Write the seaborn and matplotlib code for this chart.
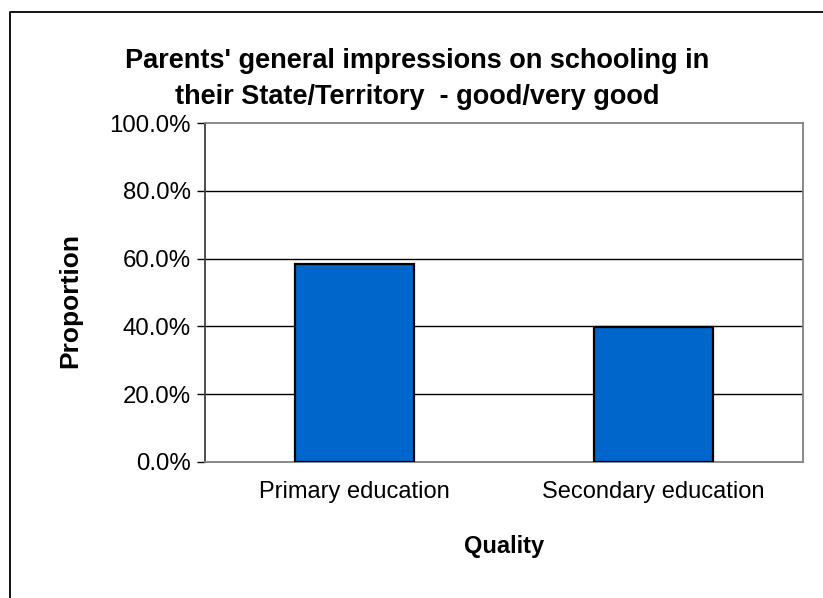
import seaborn as sns
import pandas as pd
from matplotlib import pyplot as plt
from matplotlib.ticker import PercentFormatter
from matplotlib.lines import Line2D

# values
categories = ["Primary education", "Secondary education"]
proportions = [0.583, 0.398]
y_ticks = [0.0, 0.2, 0.4, 0.6, 0.8, 1.0]

df = pd.DataFrame({"Quality": categories, "Proportion": proportions})

sns.set_style("white")
plt.rcParams["font.family"] = ["Liberation Sans", "DejaVu Sans"]
plt.rcParams["text.color"] = "black"
plt.rcParams["xtick.color"] = "black"
plt.rcParams["ytick.color"] = "black"

W, H = 823, 598
fig = plt.figure(figsize=(W / 100, H / 100), dpi=100)

# plot area in pixels: left 205, top 123, right 803, bottom 462
ax = fig.add_axes([205 / W, 1 - 462 / H, 598 / W, 339 / H])

sns.barplot(data=df, x="Quality", y="Proportion", ax=ax, width=0.4,
            color="#0066CC", saturation=1, edgecolor="black", linewidth=1.6,
            zorder=3)

ax.set_ylim(0, 1)
ax.set_xlim(-0.5, 1.5)
ax.set_yticks(y_ticks)
ax.yaxis.set_major_formatter(PercentFormatter(1.0, decimals=1))
for t in y_ticks[1:-1]:
    ax.axhline(t, color="black", lw=1, zorder=1)

# category boundary ticks below the x axis
ax.set_xticks([-0.5, 0.5, 1.5], minor=True)
ax.tick_params(axis="x", which="minor", length=6, width=1, color="black", direction="out")
ax.tick_params(axis="x", which="major", length=0, pad=14, labelsize=17)
ax.tick_params(axis="y", which="major", length=6, width=1, color="black",
               direction="out", left=True, labelsize=17.3, pad=4)

for side in ["top", "right", "bottom"]:
    ax.spines[side].set_color("#808080")
    ax.spines[side].set_linewidth(1.3)
ax.spines["left"].set_color("#404040")
ax.spines["left"].set_linewidth(1.3)

ax.set_xlabel("")
ax.set_ylabel("")

fig.text(504 / W, 1 - 547 / H, "Quality", ha="center", va="center",
         fontsize=17, fontweight="bold")
fig.text(70 / W, 1 - 301 / H, "Proportion", ha="center", va="center",
         rotation=90, fontsize=19, fontweight="bold")
fig.text(417 / W, 1 - 79 / H,
         "Parents' general impressions on schooling in\ntheir State/Territory  - good/very good",
         ha="center", va="center", fontsize=19.5, fontweight="bold", linespacing=1.45)

# chart outer border (left and top edges visible)
fig.add_artist(Line2D([10 / W, 10 / W, 1.0], [0.0, 1 - 12 / H, 1 - 12 / H],
                      transform=fig.transFigure, color="black", lw=1.3))

fig.savefig("out.png", dpi=100, facecolor="white")
